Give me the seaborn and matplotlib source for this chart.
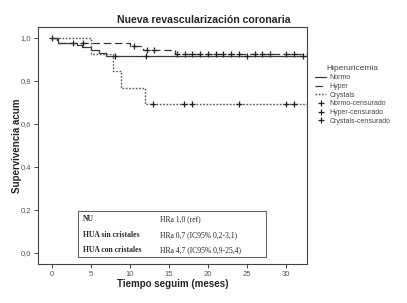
import numpy as np
import matplotlib
matplotlib.use("Agg")
import matplotlib.pyplot as plt
import seaborn as sns
from matplotlib.lines import Line2D
from matplotlib.patches import Rectangle

sns.set_theme(style="white")
plt.rcParams["font.family"] = ["Liberation Sans", "DejaVu Sans"]

# Kaplan-Meier steps (time in months, cumulative survival)
normo_t = [0, 0.8, 3.2, 3.8, 5.0, 6.0, 7.0, 32.7]
normo_s = [1.0, 0.978, 0.967, 0.956, 0.945, 0.932, 0.918, 0.918]
normo_cens = [2.7, 8.1, 12.1, 25.0, 32.2]

hyper_t = [0, 0.6, 10.0, 11.7, 15.8, 32.7]
hyper_s = [1.0, 0.978, 0.963, 0.944, 0.924, 0.924]
hyper_cens = [0.0, 4.0, 10.5, 12.2, 13.1, 16.0, 17.1, 18.0, 19.0, 20.0, 21.0,
              22.0, 23.0, 24.0, 26.0, 27.0, 28.0, 30.0, 31.0]

cryst_t = [0, 5.0, 7.8, 8.9, 12.0, 32.7]
cryst_s = [1.0, 0.923, 0.846, 0.769, 0.692, 0.692]
cryst_cens = [13.0, 17.0, 18.0, 24.0, 30.0, 31.0]

groups = ["Normo", "Hyper", "Crystals"]
hr_rows = ["NU", "HUA sin cristales", "HUA con cristales"]
hr_vals = ["HRa 1,0 (ref)", "HRa 0,7 (IC95% 0,2-3,1)", "HRa 4,7 (IC95% 0,9-25,4)"]

line_col = "#3a3a3a"
styles = {
    "Normo": dict(ls="-", lw=0.9, color=line_col),
    "Hyper": dict(ls=(0, (6, 3)), lw=0.9, color=line_col),
    "Crystals": dict(ls=(0, (1.2, 1.2)), lw=1.0, color="#555555"),
}
data = {
    "Normo": (normo_t, normo_s, normo_cens),
    "Hyper": (hyper_t, hyper_s, hyper_cens),
    "Crystals": (cryst_t, cryst_s, cryst_cens),
}

fig = plt.figure(figsize=(4.07, 3.03), dpi=100)
ax = fig.add_axes([0.093, 0.129, 0.661, 0.782])

for g in groups:
    t, s, c = data[g]
    ax.step(t, s, where="post", **styles[g])
    # survival at censoring times from the step function
    idx = np.searchsorted(t, c, side="right") - 1
    cs = np.array(s)[idx]
    ax.plot(c, cs, ls="none", marker="+", ms=4.5, mew=0.9, color="#222222")

ax.set_xlim(-1.8, 32.7)
ax.set_ylim(-0.051, 1.051)
ax.set_xticks([0, 5, 10, 15, 20, 25, 30])
ax.set_yticks([0, 0.2, 0.4, 0.6, 0.8, 1.0])
ax.set_yticklabels(["0,0", "0,2", "0,4", "0,6", "0,8", "1,0"])
ax.tick_params(axis="both", labelsize=5.5, labelcolor="#555555", length=3,
               width=0.7, color="#444444", pad=2, direction="out",
               bottom=True, left=True)
for sp in ax.spines.values():
    sp.set_color("#444444")
    sp.set_linewidth(0.8)

ax.set_xlabel("Tiempo seguim (meses)", fontsize=7, fontweight="bold", labelpad=1)
ax.set_ylabel("Supervivencia acum", fontsize=7, fontweight="bold", labelpad=-1)
fig.text(0.5, 0.934, "Nueva revascularización coronaria", ha="center",
         va="center", fontsize=7.6, fontweight="bold")

# HR table box
ax.add_patch(Rectangle((0.149, 0.03), 0.699, 0.194, transform=ax.transAxes,
                       fill=True, facecolor="white", edgecolor="#666666", lw=0.8))
for yy, lab, val in zip([0.19, 0.122, 0.059], hr_rows, hr_vals):
    ax.text(0.167, yy, lab, transform=ax.transAxes, va="center",
            fontsize=5.5, fontweight="bold", family=["Liberation Serif"])
    ax.text(0.454, yy, val, transform=ax.transAxes, va="center",
            fontsize=5.5, family=["Liberation Serif"], color="#222222")

# legend
handles = [Line2D([], [], **styles[g]) for g in groups]
handles += [Line2D([], [], ls="none", marker="+", ms=5, mew=0.9, color="#222222")
            for g in groups]
labels = groups + [g + "-censurado" for g in groups]
leg = fig.legend(handles, labels, title="Hiperuricemia", loc="upper left",
                 bbox_to_anchor=(0.762, 0.80), frameon=False, fontsize=5,
                 title_fontsize=6, handlelength=1.6, handletextpad=0.5,
                 labelspacing=0.25, borderpad=0.2)
for txt in leg.get_texts():
    txt.set_color("#444444")
leg.get_title().set_color("#444444")

plt.savefig("out.png", dpi=100)
